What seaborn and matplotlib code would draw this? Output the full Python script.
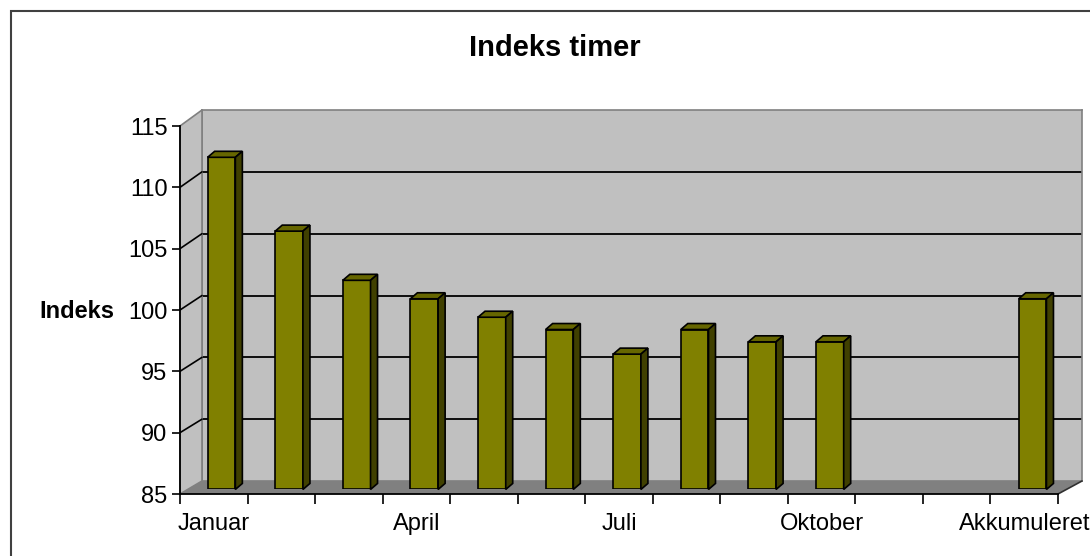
import numpy as np
import pandas as pd
import matplotlib
matplotlib.use("Agg")
import matplotlib.pyplot as plt
from matplotlib.patches import Polygon, Rectangle
from matplotlib.lines import Line2D
import seaborn as sns

# --- Data ---
months = ["Januar", "Februar", "Marts", "April", "Maj", "Juni", "Juli",
          "August", "September", "Oktober", "November", "December", "Akkumuleret"]
index_values = [112, 106, 102, 100.5, 99, 98, 96, 98, 97, 97, np.nan, np.nan, 100.5]
y_ticks = [85, 90, 95, 100, 105, 110, 115]
label_months = months[::3]

Y_MIN, Y_MAX = 85, 115

# --- Style ---
sns.set_theme(style="white")
plt.rcParams["font.family"] = ["Liberation Sans", "DejaVu Sans"]

FACE = "#808000"
TOP = "#666600"
SIDE = "#404000"
WALL = "#c0c0c0"
FLOOR = "#808080"
EDGE = "#808080"

W, H = 1090, 556
fig = plt.figure(figsize=(W / 100, H / 100), dpi=100)
fig.patch.set_facecolor("white")

# front plane, back wall and the plane the bars stand in (fake 3D like Excel)
front_rect = [180 / W, 1 - 494 / H, 878 / W, 368 / H]
back_rect = [202 / W, 1 - 481 / H, 880 / W, 371 / H]
depth = 0.35
bar_rect = [a + depth * (b - a) for a, b in zip(front_rect, back_rect)]

ax_back = fig.add_axes(back_rect, zorder=0)
ax_bar = fig.add_axes(bar_rect, zorder=2)
ax = fig.add_axes(front_rect, zorder=3)

xlim = (-0.5, len(months) - 0.5)

# --- Bars ---
df = pd.DataFrame({"Maaned": months, "Indeks": index_values}).dropna()
sns.barplot(data=df, x="Maaned", y="Indeks", order=months, color=FACE,
            saturation=1, width=0.41, edgecolor="black", linewidth=1.2, ax=ax_bar)

for a in (ax_back, ax_bar, ax):
    a.set_xlim(*xlim)
    a.set_ylim(Y_MIN, Y_MAX)
ax_bar.set_axis_off()

for p in ax_bar.patches:
    h = p.get_height()
    if not np.isfinite(h):
        continue
    p.set_y(Y_MIN)
    p.set_height(h - Y_MIN)

# --- Back wall ---
ax_back.set_facecolor(WALL)
ax_back.set_xticks([])
ax_back.set_yticks(y_ticks[1:-1])
ax_back.tick_params(left=False, labelleft=False, bottom=False)
ax_back.yaxis.grid(True, color="black", linewidth=1.3)
for s in ax_back.spines.values():
    s.set_color(EDGE)
    s.set_linewidth(1.2)

to_fig = fig.transFigure.inverted()


def fpt(a, x, y):
    return to_fig.transform(a.transData.transform((x, y)))


# left wall and floor
fl_b, fl_t = fpt(ax, xlim[0], Y_MIN), fpt(ax, xlim[0], Y_MAX)
bl_b, bl_t = fpt(ax_back, xlim[0], Y_MIN), fpt(ax_back, xlim[0], Y_MAX)
fr_b, br_b = fpt(ax, xlim[1], Y_MIN), fpt(ax_back, xlim[1], Y_MIN)

fig.add_artist(Polygon([fl_b, fl_t, bl_t, bl_b], closed=True, facecolor=WALL,
                       edgecolor=EDGE, linewidth=1.2, transform=fig.transFigure, zorder=1))
fig.add_artist(Polygon([fl_b, fr_b, br_b, bl_b], closed=True, facecolor=FLOOR,
                       edgecolor="none", transform=fig.transFigure, zorder=1.1))
for v in y_ticks[1:-1]:
    p0, p1 = fpt(ax, xlim[0], v), fpt(ax_back, xlim[0], v)
    fig.add_artist(Line2D([p0[0], p1[0]], [p0[1], p1[1]], color="black", linewidth=1.2,
                          transform=fig.transFigure, zorder=1.2))
fig.add_artist(Line2D([fr_b[0], br_b[0]], [fr_b[1], br_b[1]], color="#303030", linewidth=1.2,
                      transform=fig.transFigure, zorder=1.2))

# top and side faces of the bars
dx, dy = 7 / W, 6 / H
for p in ax_bar.patches:
    if not np.isfinite(p.get_height()):
        continue
    x0, x1 = p.get_x(), p.get_x() + p.get_width()
    top = p.get_y() + p.get_height()
    fx0, fb = fpt(ax_bar, x0, Y_MIN)
    fx1, ft = fpt(ax_bar, x1, top)
    fig.add_artist(Polygon([(fx0, ft), (fx1, ft), (fx1 + dx, ft + dy), (fx0 + dx, ft + dy)],
                           closed=True, facecolor=TOP, edgecolor="black", linewidth=1.2,
                           transform=fig.transFigure, zorder=2.5))
    fig.add_artist(Polygon([(fx1, fb), (fx1, ft), (fx1 + dx, ft + dy), (fx1 + dx, fb + dy)],
                           closed=True, facecolor=SIDE, edgecolor="black", linewidth=1.2,
                           transform=fig.transFigure, zorder=2.5))

# --- Front axes (spines, ticks, labels) ---
ax.set_facecolor("none")
ax.spines[["top", "right"]].set_visible(False)
for s in ("left", "bottom"):
    ax.spines[s].set_color("black")
    ax.spines[s].set_linewidth(1.3)

ax.set_yticks(y_ticks)
ax.set_yticklabels([str(v) for v in y_ticks])
ax.set_xticks(range(0, len(months), 3))
ax.set_xticklabels(label_months)
ax.set_xticks(np.arange(-0.5, len(months), 1), minor=True)
ax.tick_params(axis="x", which="major", length=0, pad=14, labelsize=17, labelcolor="black")
ax.tick_params(axis="x", which="minor", length=7, width=1.2, color="black",
               direction="out", bottom=True)
ax.tick_params(axis="y", which="major", length=6, width=1.2, color="black",
               direction="out", left=True, pad=3, labelsize=17, labelcolor="black")
ax.set_xlabel("")
ax.set_ylabel("Indeks", rotation=0, fontsize=17, fontweight="bold",
              ha="center", va="center", color="black")
ax.yaxis.set_label_coords(-0.1173, 0.497)

fig.text(555 / W, 1 - 48 / H, "Indeks timer", ha="center", va="center",
         fontsize=21, fontweight="bold", color="black")

# outer chart border
fig.add_artist(Rectangle((11 / W, -0.1), 1.2, (1 - 11 / H) + 0.1, fill=False,
                         edgecolor="#404040", linewidth=1.5, transform=fig.transFigure, zorder=5))

fig.savefig("out.png", dpi=100)
